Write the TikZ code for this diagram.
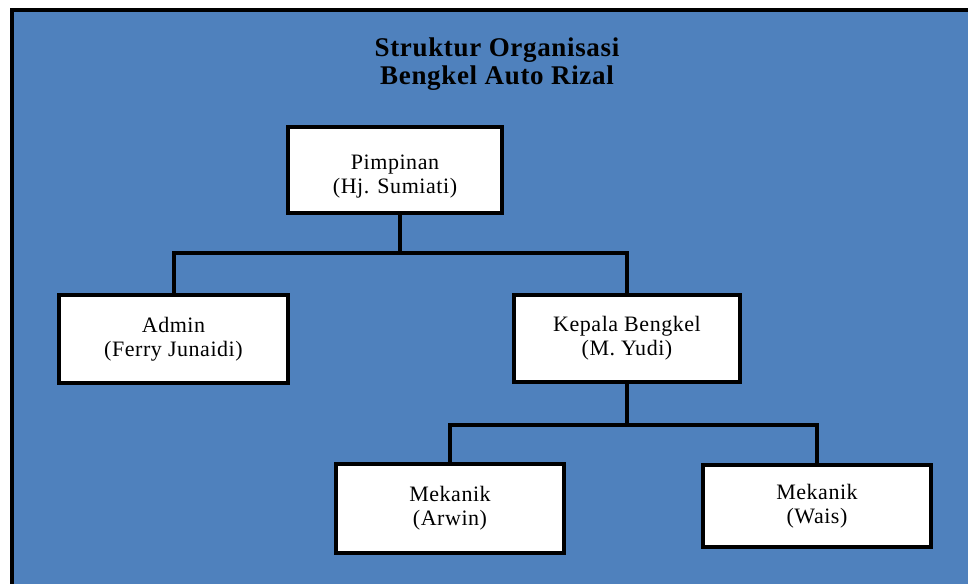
\documentclass[tikz,border=0pt]{standalone}
\usepackage{fontspec}
\setmainfont{Liberation Serif}
\newfontfamily\boxfont[LetterSpace=2.5]{Liberation Serif}
\newfontfamily\titlefont[LetterSpace=2.5]{Liberation Serif}
\definecolor{bgblue}{RGB}{79,129,189}
\tikzset{
  orgbox/.style={draw=black, line width=4.6pt, fill=white, rectangle, inner sep=0pt,
    align=center, font=\boxfont\fontsize{22}{24}\selectfont},
  titletext/.style={anchor=base, inner sep=0pt, font=\titlefont\bfseries\fontsize{27}{28}\selectfont},
  link/.style={draw=black, line width=4pt}
}
\begin{document}
\begin{tikzpicture}[x=1pt,y=-1pt]
\useasboundingbox (0,0) rectangle (968,583);
\fill[white] (0,0) rectangle (968,583);
\begin{scope}
\clip (0,0) rectangle (968,583);
\draw[line width=4pt, fill=bgblue] (12,10) rectangle (990,600);
\end{scope}
\node[titletext] (t1) at (497,57) {Struktur Organisasi};
\node[titletext] (t2) at (497,85) {Bengkel Auto Rizal};

\coordinate (j1) at (400,253);
\coordinate (j2) at (627,425);

\node[orgbox, minimum width=214pt, minimum height=86pt] (p) at (395,170) {\rule{0pt}{28pt}Pimpinan\\(Hj. Sumiati)};
\node[orgbox, minimum width=229pt, minimum height=88pt] (a) at (173.5,339) {Admin\\(Ferry Junaidi)};
\node[orgbox, minimum width=226pt, minimum height=87pt] (k) at (627,338.5) {Kepala Bengkel\\(M. Yudi)};
\node[orgbox, minimum width=228pt, minimum height=89pt] (m1) at (450,508.5) {Mekanik\\(Arwin)};
\node[orgbox, minimum width=228pt, minimum height=82pt] (m2) at (817,506) {Mekanik\\(Wais)};

\begin{scope}[on background layer/.style={}]
\draw[link] (j1 |- p.south) -- (j1);
\draw[link] (a.north) |- (j1) -| (k.north);
\draw[link] (k.south) -- (j2);
\draw[link] (m1.north) |- (j2) -| (m2.north);
\end{scope}
\end{tikzpicture}
\end{document}
